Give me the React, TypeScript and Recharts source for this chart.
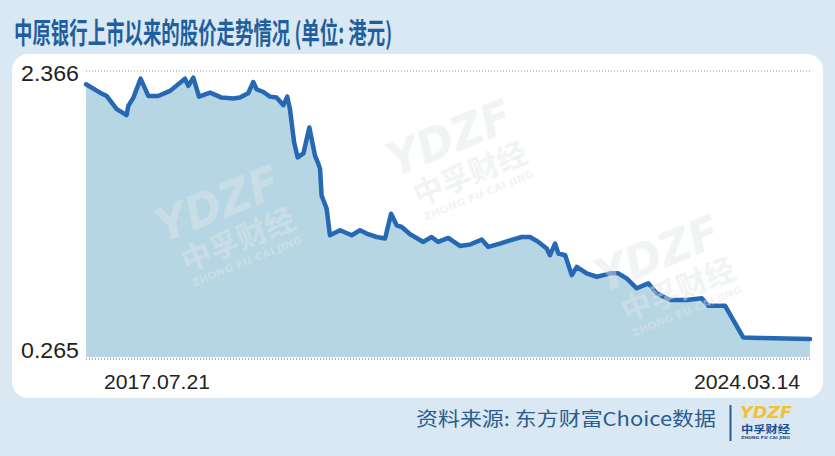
import { Area, AreaChart, CartesianGrid, ReferenceLine, XAxis, YAxis } from "recharts";

// days since listing (2017.07.21) and closing price, HKD
const days = [
  0, 47, 69, 103, 136, 142, 159, 183, 209, 242, 282, 332, 343, 360, 379, 416,
  455, 494, 516, 544, 561, 572, 595, 617, 639, 662, 675, 684, 698, 710, 729,
  749, 768, 778, 785, 790, 807, 818, 852, 891, 919, 941, 975, 1003, 1023, 1042,
  1059, 1087, 1131, 1159, 1181, 1215, 1254, 1288, 1327, 1349, 1388, 1422, 1461,
  1489, 1517, 1545, 1556, 1573, 1584, 1607, 1629, 1646, 1679, 1713, 1735, 1757,
  1785, 1813, 1847, 1886, 1914, 1959, 2015, 2065, 2087, 2143, 2204, 2260, 2428,
];
const prices = [
  2.269, 2.208, 2.184, 2.088, 2.044, 2.112, 2.172, 2.31, 2.184, 2.184, 2.221,
  2.31, 2.257, 2.317, 2.179, 2.208, 2.172, 2.165, 2.172, 2.204, 2.286, 2.233,
  2.213, 2.179, 2.172, 2.117, 2.179, 2.088, 1.845, 1.736, 1.765, 1.954, 1.749,
  1.696, 1.652, 1.458, 1.362, 1.168, 1.204, 1.168, 1.204, 1.18, 1.155, 1.144,
  1.325, 1.24, 1.228, 1.175, 1.119, 1.155, 1.119, 1.148, 1.09, 1.1, 1.136,
  1.083, 1.107, 1.131, 1.155, 1.155, 1.119, 1.071, 1.022, 1.107, 1.035, 1.022,
  0.877, 0.937, 0.89, 0.865, 0.877, 0.89, 0.89, 0.853, 0.781, 0.817, 0.744,
  0.696, 0.696, 0.708, 0.654, 0.654, 0.422, 0.418, 0.41,
];
const xTicks = [0, 2428];
const xLabels = ["2017.07.21", "2024.03.14"];
const yTicks = [0.265, 2.366];
const yLabels = ["0.265", "2.366"];

const TITLE = "中原银行上市以来的股价走势情况 (单位: 港元)";
const SOURCE = "资料来源: 东方财富Choice数据";

const chartData = days.map((d, i) => ({ d, price: prices[i] }));

const XTick = (props: any) => {
  const { x, y, payload } = props;
  const i = xTicks.indexOf(payload.value);
  const first = i === 0;
  return (
    <text
      x={first ? x + 18 : x - 10}
      y={y + 22}
      textAnchor={first ? "start" : "end"}
      fontFamily="Liberation Sans, Arial, sans-serif"
      fontSize={21}
      fill="#222"
      textLength={106}
      lengthAdjust="spacingAndGlyphs"
    >
      {xLabels[i]}
    </text>
  );
};

const YTick = (props: any) => {
  const { y, payload } = props;
  const i = yTicks.indexOf(payload.value);
  const top = i === 1;
  return (
    <text
      x={79}
      y={top ? y + 10 : y - 1}
      textAnchor="end"
      fontFamily="Liberation Sans, Arial, sans-serif"
      fontSize={22}
      fill="#222"
      textLength={58}
      lengthAdjust="spacingAndGlyphs"
    >
      {yLabels[i]}
    </text>
  );
};

const Watermark = ({ cx, cy }: { cx: number; cy: number }) => (
  <g transform={`translate(${cx},${cy}) rotate(-22)`} fill="#e2e7eb" opacity={0.45}>
    <text
      x={0}
      y={-8}
      textAnchor="middle"
      fontFamily="DejaVu Sans, sans-serif"
      fontWeight="bold"
      fontStyle="italic"
      fontSize={46}
      textLength={130}
      lengthAdjust="spacingAndGlyphs"
    >
      YDZF
    </text>
    <text
      x={6}
      y={28}
      textAnchor="middle"
      fontFamily="Noto Sans CJK SC, sans-serif"
      fontWeight="bold"
      fontSize={30}
      textLength={120}
      lengthAdjust="spacingAndGlyphs"
    >
      中孚财经
    </text>
    <text
      x={6}
      y={44}
      textAnchor="middle"
      fontFamily="DejaVu Sans, sans-serif"
      fontWeight="bold"
      fontSize={10}
      textLength={118}
      lengthAdjust="spacingAndGlyphs"
    >
      ZHONG FU CAI JING
    </text>
  </g>
);

export default function App() {
  return (
    <div
      style={{
        position: "absolute",
        left: 0,
        top: 0,
        width: 835,
        height: 456,
        background: "#d9e8f3",
        overflow: "hidden",
      }}
    >
      <div
        style={{
          position: "absolute",
          left: 14,
          top: 10,
          whiteSpace: "nowrap",
          fontFamily: "Noto Sans CJK SC, sans-serif",
          fontWeight: 700,
          fontSize: 29,
          color: "#1f5f9e",
          transform: "scaleX(0.635)",
          transformOrigin: "left top",
        }}
      >
        {TITLE}
      </div>
      <div
        style={{
          position: "absolute",
          left: 12,
          top: 54,
          width: 811,
          height: 344,
          background: "#fff",
          borderRadius: 16,
        }}
      />
      <div style={{ position: "absolute", left: 0, top: 0 }}>
        <AreaChart
          width={835}
          height={456}
          data={chartData}
          margin={{ top: 71, right: 25, bottom: 67, left: 26 }}
        >
          <CartesianGrid
            vertical={false}
            stroke="#8f8f8f"
            strokeDasharray="1 2"
          />
          <XAxis
            dataKey="d"
            type="number"
            domain={[0, 2428]}
            ticks={xTicks}
            tick={<XTick />}
            tickLine={false}
            axisLine={false}
            height={30}
            interval={0}
          />
          <YAxis
            type="number"
            domain={[0.265, 2.366]}
            ticks={yTicks}
            tick={<YTick />}
            tickLine={false}
            axisLine={false}
            width={60}
            interval={0}
          />
          <Area
            type="linear"
            dataKey="price"
            baseValue={0.28}
            stroke="#2668b3"
            strokeWidth={4.5}
            strokeLinejoin="round"
            strokeLinecap="round"
            fill="#b6d6e3"
            fillOpacity={1}
            dot={false}
            activeDot={false}
            isAnimationActive={false}
          />
          <ReferenceLine
            y={0.265}
            stroke="#8f8f8f"
            strokeDasharray="1 2"
            ifOverflow="extendDomain"
          />
        </AreaChart>
      </div>
      <svg
        width={835}
        height={456}
        style={{ position: "absolute", left: 0, top: 0, pointerEvents: "none" }}
      >
        <Watermark cx={226} cy={226} />
        <Watermark cx={458} cy={160} />
        <Watermark cx={666} cy={276} />
        <text
          x={416}
          y={426}
          fontFamily="Noto Sans CJK SC, sans-serif"
          fontSize={19}
          fill="#2b5c8f"
          textLength={300}
          lengthAdjust="spacingAndGlyphs"
        >
          {SOURCE}
        </text>
        <line x1={730.5} y1={405} x2={730.5} y2={441} stroke="#2b5c8f" strokeWidth={2} />
        <text
          x={740}
          y={418}
          fontFamily="DejaVu Sans, sans-serif"
          fontWeight="bold"
          fontStyle="italic"
          fontSize={15}
          fill="#f1c232"
          textLength={52}
          lengthAdjust="spacingAndGlyphs"
        >
          YDZF
        </text>
        <text
          x={741}
          y={433}
          fontFamily="Noto Sans CJK SC, sans-serif"
          fontWeight="bold"
          fontSize={10}
          fill="#1d4f8e"
          textLength={49}
          lengthAdjust="spacingAndGlyphs"
        >
          中孚财经
        </text>
        <text
          x={741}
          y={439}
          fontFamily="DejaVu Sans, sans-serif"
          fontWeight="bold"
          fontSize={4}
          fill="#1d4f8e"
          textLength={49}
          lengthAdjust="spacingAndGlyphs"
        >
          ZHONG FU CAI JING
        </text>
      </svg>
    </div>
  );
}
